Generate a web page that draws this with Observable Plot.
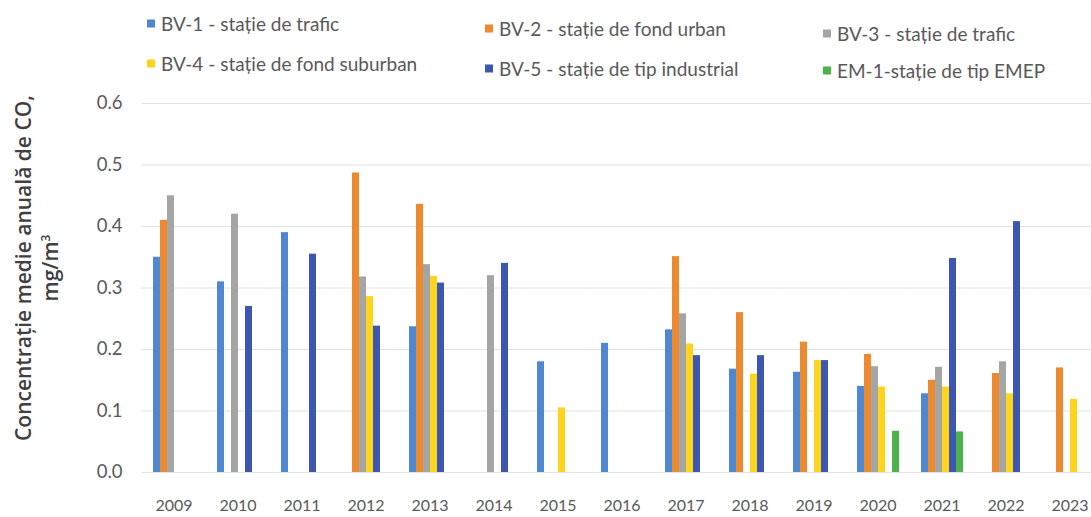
<!DOCTYPE html>
<html>
<head>
<meta charset="utf-8">
<script src="https://cdn.jsdelivr.net/npm/d3@7"></script>
<script src="https://cdn.jsdelivr.net/npm/@observablehq/plot@0.6"></script>
<style>
  html, body { margin: 0; padding: 0; background: #fff; overflow: hidden; }
  #wrap { position: relative; width: 1091px; height: 517px; }
  #legend { position: absolute; left: 0; top: 0; width: 1091px; height: 85px; }
  .li { position: absolute; font-family: Lato, sans-serif; font-size: 19px; color: #595959; white-space: nowrap; display: flex; align-items: center; transform: translateY(-50%); }
  .sw { width: 8px; height: 8px; margin-right: 6px; display: inline-block; }
  #ytitle { position: absolute; left: 37px; top: 268px; transform: translate(-50%, -50%) rotate(-90deg); font-family: "Open Sans", sans-serif; font-weight: 600; font-size: 21px; line-height: 27px; color: #404040; text-align: center; white-space: nowrap; }
  #ytitle sup { font-size: 12px; line-height: 0; }
  #chart { position: absolute; left: 0; top: 85px; }
</style>
</head>
<body>
<div id="wrap">
  <div id="legend"></div>
  <div id="ytitle">Concentrație medie anuală de CO,<br>mg/m<sup>3</sup></div>
  <div id="chart"></div>
</div>
<script>
// Categories
const years = ["2009","2010","2011","2012","2013","2014","2015","2016","2017","2018","2019","2020","2021","2022","2023"];
const seriesNames = [
  "BV-1 - stație de trafic",
  "BV-2 - stație de fond urban",
  "BV-3 - stație de trafic",
  "BV-4 - stație de fond suburban",
  "BV-5 - stație de tip industrial",
  "EM-1-stație de tip EMEP"
];
const seriesColors = ["#4F87D3", "#EC8A30", "#A5A5A5", "#FFD41C", "#3C57B2", "#4CB24C"];

// Series values (mg/m3), null = no data
const bv1 = [0.35, 0.31, 0.39, null, 0.237, null, 0.18, 0.21, 0.232, 0.168, 0.163, 0.14, 0.128, null, null];
const bv2 = [0.41, null, null, 0.487, 0.436, null, null, null, 0.351, 0.26, 0.212, 0.192, 0.15, 0.161, 0.17];
const bv3 = [0.45, 0.42, null, 0.318, 0.338, 0.32, null, null, 0.258, null, null, 0.172, 0.171, 0.18, null];
const bv4 = [null, null, null, 0.286, 0.319, null, 0.105, null, 0.209, 0.16, 0.182, 0.139, 0.139, 0.128, 0.119];
const bv5 = [null, 0.27, 0.355, 0.238, 0.308, 0.34, null, null, 0.19, 0.19, 0.182, null, 0.348, 0.408, null];
const em1 = [null, null, null, null, null, null, null, null, null, null, null, 0.067, 0.066, null, null];

// Y tick labels
const yTicks = [0, 0.1, 0.2, 0.3, 0.4, 0.5, 0.6];

const seriesValues = [bv1, bv2, bv3, bv4, bv5, em1];
const data = [];
years.forEach((yr, i) => {
  seriesValues.forEach((arr, j) => {
    if (arr[i] != null) data.push({year: yr, series: seriesNames[j], value: arr[i]});
  });
});

// Legend (HTML)
const legendPos = [
  {left: 147, top: 23}, {left: 485, top: 28}, {left: 823, top: 33},
  {left: 147, top: 63}, {left: 485, top: 68}, {left: 823, top: 70}
];
const legend = document.getElementById("legend");
seriesNames.forEach((name, i) => {
  const d = document.createElement("div");
  d.className = "li";
  d.style.left = legendPos[i].left + "px";
  d.style.top = legendPos[i].top + "px";
  const sw = document.createElement("span");
  sw.className = "sw";
  sw.style.background = seriesColors[i];
  d.appendChild(sw);
  d.appendChild(document.createTextNode(name));
  legend.appendChild(d);
});

const fxPadInner = 0.26;
const W = 1091, mL = 142, mR = -11;
const step = (W - mL - mR) / years.length;
const halfGap = step * fxPadInner / 2 + 0.5;

const chart = Plot.plot({
  width: W,
  height: 432,
  marginLeft: mL,
  marginRight: mR,
  marginTop: 18,
  marginBottom: 45,
  style: {fontFamily: "Lato, sans-serif", background: "transparent"},
  fx: {domain: years, paddingInner: fxPadInner, paddingOuter: fxPadInner / 2, label: null},
  x: {domain: seriesNames, padding: 0, axis: null},
  y: {domain: [0, 0.6], label: null},
  color: {domain: seriesNames, range: seriesColors},
  marks: [
    Plot.ruleY(yTicks, {stroke: "#e2e2e2", strokeWidth: 1, insetLeft: -halfGap, insetRight: -halfGap}),
    Plot.barY(data, {fx: "year", x: "series", y: "value", fill: "series"}),
    Plot.axisFx({anchor: "bottom", tickSize: 0, tickPadding: 27, fontSize: 16, color: "#595959", label: null}),
    Plot.axisY(yTicks, {anchor: "left", tickSize: 0, tickPadding: 28, fontSize: 18.5, color: "#595959", tickFormat: d3.format(".1f"), label: null})
  ]
});
document.getElementById("chart").appendChild(chart);
</script>
</body>
</html>
